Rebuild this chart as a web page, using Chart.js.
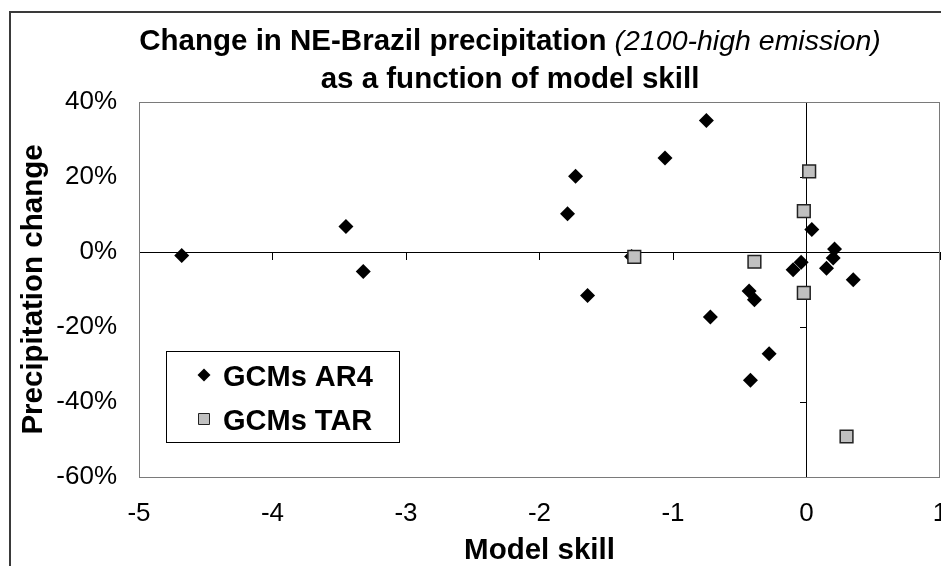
<!DOCTYPE html>
<html>
<head>
<meta charset="utf-8">
<title>NE-Brazil precipitation change vs model skill</title>
<script src="https://cdn.jsdelivr.net/npm/chart.js@4.4.1/dist/chart.umd.min.js"></script>
<style>
  html, body { margin: 0; padding: 0; background: #fff; }
  canvas { display: block; }
</style>
</head>
<body>
<canvas id="skillChart" width="941" height="566"></canvas>
<script>
// values: model skill (x) and precipitation change in % (y)
let skillAR4  = [-4.68, -3.45, -3.32, -1.79, -1.73, -1.64, -1.31, -1.06, -0.75, -0.72, -0.43, -0.39, -0.42, -0.28, -0.10, -0.04, 0.04, 0.15, 0.20, 0.21, 0.35];
let precipAR4 = [-0.9, 6.8, -5.2, 10.2, 20.2, -11.6, -1.2, 25.1, 35.1, -17.3, -10.4, -12.7, -34.2, -27.1, -4.7, -2.7, 6.0, -4.3, -1.6, 0.8, -7.4];
let skillTAR  = [0.02, -0.02, -1.29, -0.39, -0.02, 0.30];
let precipTAR = [21.5, 10.9, -1.3, -2.6, -10.9, -49.2];

let seriesNames = ['GCMs AR4', 'GCMs TAR'];
let xTicks = [-5, -4, -3, -2, -1, 0, 1];
let yTicks = [-60, -40, -20, 0, 20, 40];

let titleBold = 'Change in NE-Brazil precipitation';
let titleItalic = '(2100-high emission)';
let titleLine2 = 'as a function of model skill';

const FONT = '"Liberation Sans", Arial, Helvetica, sans-serif';
Chart.defaults.font.family = FONT;
Chart.defaults.color = '#000';

let toPoints = (xs, ys) => xs.map((x, i) => ({x: x, y: ys[i]}));
let setTicks = (list) => (scale) => { scale.ticks = list.map(v => ({value: v})); };

// outer frame of the original figure (cropped at right and bottom)
const outerFrame = {
  id: 'outerFrame',
  beforeDraw(chart) {
    const ctx = chart.ctx;
    ctx.save();
    ctx.strokeStyle = '#3a3a3a';
    ctx.lineWidth = 2;
    ctx.strokeRect(10, 12, chart.width + 40, chart.height + 40);
    ctx.restore();
  }
};

// two-line title, first line mixes bold and italic
const mixedTitle = {
  id: 'mixedTitle',
  afterDraw(chart) {
    const ctx = chart.ctx;
    const cx = 510;
    const boldFont = 'bold 29.5px ' + FONT;
    const italFont = 'italic 28.5px ' + FONT;
    ctx.save();
    ctx.fillStyle = '#000';
    ctx.textBaseline = 'alphabetic';
    ctx.textAlign = 'left';
    ctx.font = boldFont;
    const w1 = ctx.measureText(titleBold + ' ').width;
    ctx.font = italFont;
    const w2 = ctx.measureText(titleItalic).width;
    let x = cx - (w1 + w2) / 2;
    ctx.font = boldFont;
    ctx.fillText(titleBold + ' ', x, 50);
    ctx.font = italFont;
    ctx.fillText(titleItalic, x + w1, 50);
    ctx.font = boldFont;
    ctx.textAlign = 'center';
    ctx.fillText(titleLine2, cx, 88);
    ctx.restore();
  }
};

// grey frame round the plot area
const plotFrame = {
  id: 'plotFrame',
  beforeDatasetsDraw(chart) {
    const {left, top, right, bottom} = chart.chartArea;
    const ctx = chart.ctx;
    ctx.save();
    ctx.strokeStyle = '#7a7a7a';
    ctx.lineWidth = 1;
    ctx.strokeRect(left + 0.5, top + 0.5, right - left - 1, bottom - top);
    ctx.restore();
  }
};

// boxed legend inside the plot area
const boxLegend = {
  id: 'boxLegend',
  afterDatasetsDraw(chart) {
    const ctx = chart.ctx;
    const {left, top} = chart.chartArea;
    const bx = left + 27, by = top + 249, bw = 233, bh = 91;
    ctx.save();
    ctx.fillStyle = '#fff';
    ctx.fillRect(bx, by, bw, bh);
    ctx.strokeStyle = '#000';
    ctx.lineWidth = 1;
    ctx.strokeRect(bx + 0.5, by + 0.5, bw, bh);
    ctx.font = 'bold 29px ' + FONT;
    ctx.textBaseline = 'alphabetic';
    chart.data.datasets.forEach((ds, i) => {
      const mx = bx + 38, my = by + 24 + i * 44;
      ctx.beginPath();
      if (ds.pointStyle === 'rectRot') {
        const r = 6.5;
        ctx.moveTo(mx - r, my);
        ctx.lineTo(mx, my - r);
        ctx.lineTo(mx + r, my);
        ctx.lineTo(mx, my + r);
        ctx.closePath();
        ctx.fillStyle = ds.backgroundColor;
        ctx.fill();
      } else {
        ctx.rect(mx - 5.5, my - 5.5, 11, 11);
        ctx.fillStyle = ds.backgroundColor;
        ctx.fill();
        ctx.strokeStyle = ds.borderColor;
        ctx.lineWidth = 1;
        ctx.stroke();
      }
      ctx.fillStyle = '#000';
      ctx.fillText(ds.label, bx + 57, my + 11);
    });
    ctx.restore();
  }
};

let skillChart = new Chart(document.getElementById('skillChart').getContext('2d'), {
  type: 'scatter',
  data: {
    datasets: [{
      label: seriesNames[0],
      data: toPoints(skillAR4, precipAR4),
      xAxisID: 'x',
      yAxisID: 'y',
      pointStyle: 'rectRot',
      pointRadius: 7.5,
      pointHoverRadius: 7.5,
      backgroundColor: '#000000',
      borderColor: '#000000',
      borderWidth: 0,
      order: 2
    }, {
      label: seriesNames[1],
      data: toPoints(skillTAR, precipTAR),
      xAxisID: 'x',
      yAxisID: 'y',
      pointStyle: 'rect',
      pointRadius: 9,
      pointHoverRadius: 9,
      backgroundColor: '#c0c0c0',
      borderColor: '#222222',
      borderWidth: 1.5,
      order: 1
    }]
  },
  options: {
    responsive: false,
    animation: false,
    devicePixelRatio: 1,
    layout: { autoPadding: false, padding: { left: 0, right: 1, top: 102, bottom: 0 } },
    plugins: {
      legend: { display: false },
      title: { display: false },
      tooltip: { enabled: false }
    },
    scales: {
      // crossing axes through the origin, tick marks only
      x: {
        type: 'linear', min: -5, max: 1,
        position: { y: 0 },
        afterBuildTicks: setTicks(xTicks),
        ticks: { display: false },
        grid: { display: true, drawOnChartArea: false, drawTicks: true, tickLength: 7, color: '#000', lineWidth: 1 },
        border: { display: true, color: '#000', width: 1 }
      },
      y: {
        type: 'linear', min: -60, max: 40,
        position: { x: 0 },
        afterBuildTicks: setTicks(yTicks),
        ticks: { display: false },
        grid: { display: true, drawOnChartArea: false, drawTicks: true, tickLength: 6, color: '#000', lineWidth: 1 },
        border: { display: true, color: '#000', width: 1 }
      },
      // labels along the bottom and left edges
      xb: {
        axis: 'x', type: 'linear', min: -5, max: 1,
        position: 'bottom',
        afterBuildTicks: setTicks(xTicks),
        grid: { display: false, drawTicks: false },
        border: { display: false },
        ticks: { padding: 21, maxRotation: 0, font: { size: 26 } },
        title: { display: true, text: 'Model skill', padding: 0, font: { size: 29.5, weight: 'bold', lineHeight: 1 } },
        afterFit: (s) => { s.height = 89; s.paddingLeft = 0; s.paddingRight = 0; }
      },
      yl: {
        axis: 'y', type: 'linear', min: -60, max: 40,
        position: 'left',
        afterBuildTicks: setTicks(yTicks),
        grid: { display: false, drawTicks: false },
        border: { display: false },
        ticks: { padding: 22, font: { size: 26 }, callback: (v) => v + '%' },
        title: { display: true, text: 'Precipitation change', padding: { top: 19, bottom: 0 }, font: { size: 29.5, weight: 'bold', lineHeight: 1 } },
        afterFit: (s) => { s.width = 139; }
      }
    }
  },
  plugins: [outerFrame, plotFrame, boxLegend, mixedTitle]
});
</script>
</body>
</html>
